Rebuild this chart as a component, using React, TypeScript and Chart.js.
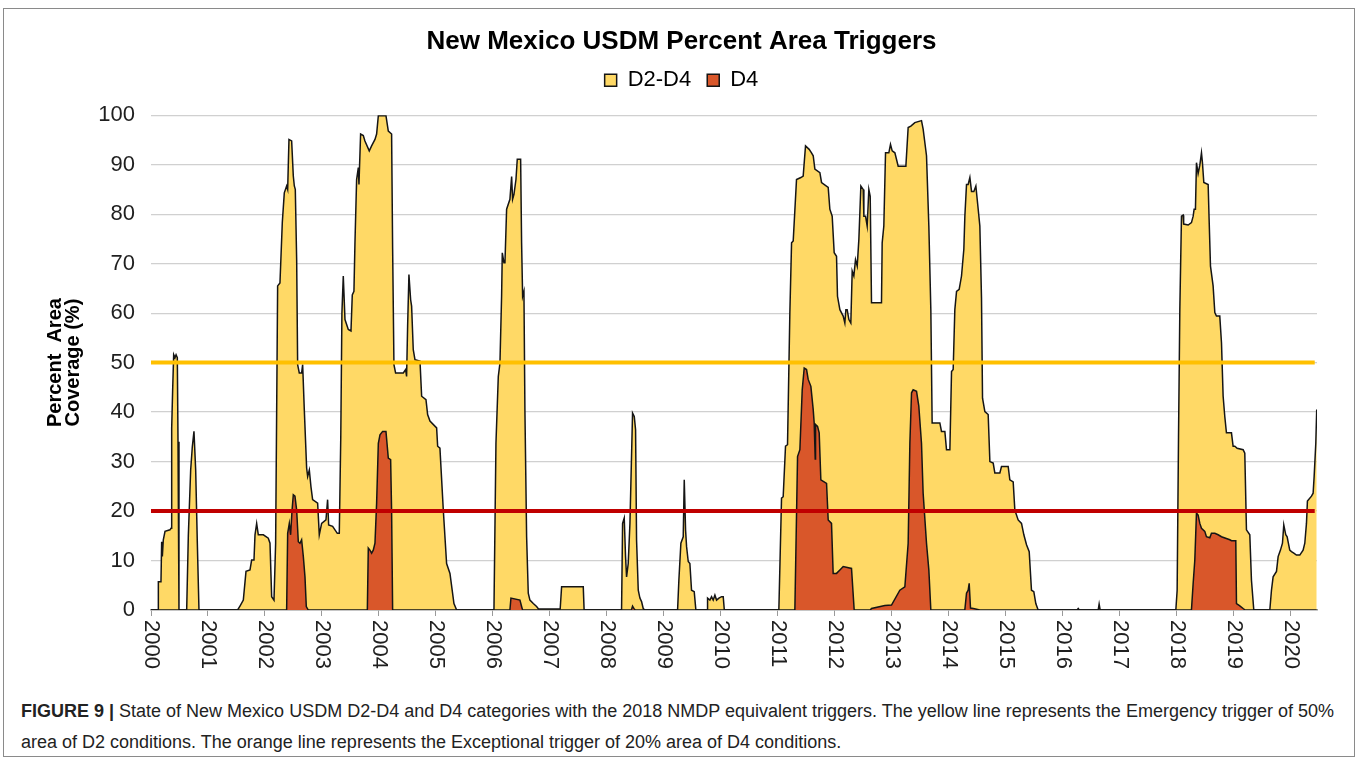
import React, { useEffect, useRef } from "react";
import { Chart, registerables } from "chart.js";

Chart.register(...registerables);

// ---- data (decimal year, percent area) ----
const d2d4Points: [number, number][] = [
  [2000.0, 0], [2000.127, 0], [2000.129, 5.7], [2000.175, 5.7], [2000.187, 13.8], [2000.199, 10.8],
  [2000.216, 14.2], [2000.246, 15.9], [2000.333, 16.2], [2000.351, 16.5], [2000.363, 36.8],
  [2000.38, 44.5], [2000.398, 51.6], [2000.421, 51.0], [2000.44, 51.6], [2000.462, 51.0],
  [2000.474, 34], [2000.491, 0],
  [2000.626, 0], [2000.655, 15], [2000.696, 28.3], [2000.725, 33], [2000.754, 36.1],
  [2000.784, 28.3], [2000.813, 13.5], [2000.842, 0],
  [2001.52, 0], [2001.561, 0.8], [2001.62, 2.0], [2001.667, 7.8], [2001.737, 8.1], [2001.766, 10.1],
  [2001.807, 10.1], [2001.825, 15.2], [2001.854, 17.5], [2001.883, 15.2], [2001.971, 15.2],
  [2002.058, 14.5], [2002.088, 13.5], [2002.117, 2.7], [2002.158, 2.0], [2002.187, 13.5],
  [2002.222, 65.5], [2002.263, 66.1], [2002.304, 78.3], [2002.339, 84.3], [2002.38, 85.7],
  [2002.398, 85], [2002.421, 95.1], [2002.468, 94.8], [2002.497, 87.7], [2002.515, 85.7],
  [2002.532, 85], [2002.556, 70.8], [2002.573, 49.6], [2002.602, 47.9], [2002.643, 47.9],
  [2002.661, 49.6], [2002.69, 40.5], [2002.731, 28.7], [2002.749, 27], [2002.778, 28.3],
  [2002.807, 24.9], [2002.836, 22.3], [2002.924, 21.6], [2002.953, 15.2], [2002.994, 17.5],
  [2003.07, 18.2], [2003.099, 22.3], [2003.117, 17.2], [2003.187, 16.9], [2003.269, 15.5],
  [2003.304, 15.5], [2003.33, 35], [2003.35, 60], [2003.374, 67.5], [2003.404, 58.7],
  [2003.462, 56.7], [2003.509, 56.4], [2003.532, 63.7], [2003.561, 64.4], [2003.579, 74.2],
  [2003.608, 87], [2003.638, 89.4], [2003.649, 86], [2003.678, 96.2], [2003.725, 95.9],
  [2003.754, 94.8], [2003.83, 92.8], [2003.871, 93.8], [2003.93, 95.1], [2003.959, 96.2],
  [2003.989, 99.9], [2004.123, 99.9], [2004.164, 96.8], [2004.222, 96.2], [2004.24, 73],
  [2004.263, 49.6], [2004.292, 47.9], [2004.427, 47.9], [2004.468, 48.6], [2004.485, 47.2],
  [2004.503, 57.4], [2004.526, 67.8], [2004.556, 62.7], [2004.573, 61.4], [2004.602, 52.6],
  [2004.632, 50.6], [2004.72, 50.3], [2004.749, 43.2], [2004.825, 42.5], [2004.854, 39.5],
  [2004.895, 38.2], [2005.012, 36.8], [2005.03, 33.1], [2005.07, 32.7], [2005.129, 20.2],
  [2005.187, 9.4], [2005.246, 7.4], [2005.316, 1.3], [2005.363, 0],
  [2006.018, 0], [2006.053, 33.7], [2006.094, 47.2], [2006.123, 49.9], [2006.152, 63.4],
  [2006.164, 72.2], [2006.193, 70.2], [2006.211, 70.2], [2006.24, 81], [2006.298, 83],
  [2006.328, 87.6], [2006.345, 83], [2006.369, 84], [2006.404, 87], [2006.427, 91.1],
  [2006.486, 91.1], [2006.503, 74.2], [2006.521, 63.4], [2006.544, 64.4], [2006.561, 40.5],
  [2006.591, 14.8], [2006.62, 3.4], [2006.649, 2.0], [2006.708, 1.3], [2006.766, 0.7],
  [2006.8, 0.2], [2007.18, 0.2], [2007.205, 4.7], [2007.585, 4.7], [2007.6, 0],
  [2008.257, 0], [2008.275, 17.5], [2008.304, 18.6], [2008.327, 10.8], [2008.345, 6.7],
  [2008.374, 9.4], [2008.404, 17.5], [2008.45, 39.8], [2008.48, 39.1], [2008.503, 36.4],
  [2008.52, 14.2], [2008.55, 4.0], [2008.579, 2.4], [2008.608, 1.7], [2008.637, 0.3], [2008.667, 0],
  [2009.24, 0], [2009.263, 6.1], [2009.298, 13.5], [2009.339, 14.8], [2009.357, 26.3],
  [2009.38, 16.2], [2009.398, 12.8], [2009.427, 9.8], [2009.456, 9.4], [2009.485, 4.0],
  [2009.532, 3.7], [2009.561, 0],
  [2009.76, 0], [2009.766, 2.4], [2009.807, 2.0], [2009.836, 2.7], [2009.865, 2.0],
  [2009.895, 3.0], [2009.924, 2.0], [2009.965, 2.4], [2010.012, 2.7], [2010.041, 2.7], [2010.06, 0],
  [2011.017, 0], [2011.064, 22.6], [2011.093, 22.9], [2011.134, 33.1], [2011.169, 33.4],
  [2011.21, 60], [2011.24, 74.2], [2011.269, 74.6], [2011.327, 87], [2011.403, 87.4],
  [2011.444, 87.7], [2011.485, 93.8], [2011.549, 93.1], [2011.59, 92.4], [2011.62, 91.8],
  [2011.649, 89.1], [2011.737, 88.4], [2011.766, 86.4], [2011.883, 85.4], [2011.912, 81],
  [2011.953, 79.6], [2011.988, 72.2], [2012.029, 71.5], [2012.046, 63.4], [2012.088, 60.7],
  [2012.146, 59.4], [2012.175, 58], [2012.193, 60.7], [2012.216, 60.7], [2012.246, 58.7],
  [2012.28, 58], [2012.304, 68.5], [2012.333, 67.5], [2012.362, 70.8], [2012.392, 69.5],
  [2012.421, 74.9], [2012.456, 85.7], [2012.497, 85], [2012.509, 79.6], [2012.538, 79.6],
  [2012.567, 77.6], [2012.596, 85], [2012.62, 83.6], [2012.643, 62.1], [2012.818, 62.1],
  [2012.83, 74.2], [2012.859, 77.6], [2012.889, 92.4], [2012.947, 92.4], [2012.976, 94.1],
  [2013.006, 92.8], [2013.053, 92.4], [2013.111, 89.7], [2013.246, 89.7], [2013.286, 97.5],
  [2013.333, 97.8], [2013.403, 98.5], [2013.52, 98.9], [2013.549, 97.2], [2013.608, 91.8],
  [2013.649, 77.6], [2013.684, 60.7], [2013.707, 37.8], [2013.842, 37.8], [2013.871, 36.1],
  [2013.93, 36.1], [2013.959, 32.4], [2014.018, 32.4], [2014.047, 48.2], [2014.076, 48.6],
  [2014.105, 60.7], [2014.135, 64.4], [2014.181, 64.8], [2014.222, 67.5], [2014.263, 72.9],
  [2014.281, 79.6], [2014.31, 86], [2014.339, 86], [2014.369, 87.4], [2014.398, 84.6],
  [2014.439, 84.6], [2014.474, 85.7], [2014.515, 81], [2014.544, 77.6], [2014.573, 63],
  [2014.591, 42.8], [2014.632, 40.1], [2014.69, 39.5], [2014.72, 30], [2014.778, 29.7],
  [2014.807, 27.7], [2014.895, 27.7], [2014.924, 29], [2015.041, 29], [2015.07, 26.3],
  [2015.129, 25.9], [2015.158, 20.2], [2015.216, 18.2], [2015.275, 17.5], [2015.316, 15.2],
  [2015.363, 13.2], [2015.41, 11.8], [2015.45, 4.0], [2015.491, 3.7], [2015.526, 1.3], [2015.567, 0],
  [2016.25, 0], [2016.27, 0.3], [2016.29, 0], [2016.62, 0], [2016.637, 1.2], [2016.655, 0],
  [2017.983, 0], [2018.006, 4.0], [2018.03, 35], [2018.053, 60.7], [2018.082, 79.6],
  [2018.111, 79.8], [2018.12, 78], [2018.199, 77.8], [2018.257, 78.3], [2018.287, 79.6],
  [2018.304, 81], [2018.327, 81], [2018.345, 90.4], [2018.374, 88.2], [2018.404, 89.9],
  [2018.433, 92.4], [2018.45, 90.4], [2018.474, 86.4], [2018.55, 86], [2018.567, 78.9],
  [2018.591, 69.5], [2018.637, 65.5], [2018.667, 60.1], [2018.696, 59.4], [2018.754, 59.4],
  [2018.784, 54], [2018.813, 43.2], [2018.842, 39.1], [2018.871, 35.8], [2018.959, 35.8],
  [2018.988, 33.1], [2019.018, 33.1], [2019.059, 32.7], [2019.164, 32.4], [2019.193, 31.7],
  [2019.222, 16.2], [2019.281, 15.2], [2019.31, 6], [2019.351, 0],
  [2019.632, 0], [2019.661, 4.0], [2019.69, 6.7], [2019.749, 7.8], [2019.778, 10.8],
  [2019.819, 12.1], [2019.854, 13.5], [2019.877, 17.2], [2019.912, 15.2], [2019.936, 14.8],
  [2019.982, 12.1], [2020.012, 11.8], [2020.053, 11.5], [2020.099, 11.1], [2020.158, 11.1],
  [2020.216, 12.1], [2020.246, 13.5], [2020.275, 17.5], [2020.292, 22], [2020.363, 23],
  [2020.392, 23.6], [2020.41, 27], [2020.439, 33.7], [2020.455, 40.5],
];

const d4Points: [number, number][] = [
  [2000.0, 0], [2002.38, 0], [2002.398, 15.5], [2002.427, 17.5], [2002.45, 15.2], [2002.474, 20],
  [2002.497, 23.3], [2002.526, 23], [2002.556, 20.2], [2002.585, 13.8], [2002.614, 13.5],
  [2002.643, 14.2], [2002.673, 10.8], [2002.702, 6.7], [2002.725, 0.7], [2002.76, 0],
  [2003.796, 0], [2003.813, 12.5], [2003.842, 12.1], [2003.871, 11.5], [2003.9, 12.1],
  [2003.93, 13.5], [2003.959, 21.6], [2003.989, 33.7], [2004.018, 35.4], [2004.064, 36.1],
  [2004.123, 36.1], [2004.164, 30.7], [2004.205, 30.4], [2004.222, 20], [2004.24, 0],
  [2006.298, 0], [2006.316, 2.4], [2006.474, 2.0], [2006.503, 0.7], [2006.52, 0],
  [2008.43, 0], [2008.45, 0.8], [2008.48, 0.2], [2008.5, 0],
  [2011.298, 0], [2011.345, 31], [2011.386, 32.4], [2011.427, 44.5], [2011.462, 48.9],
  [2011.503, 48.6], [2011.532, 46.6], [2011.579, 45.2], [2011.62, 40.5], [2011.637, 37.8],
  [2011.655, 30.5], [2011.661, 37.5], [2011.696, 37.1], [2011.725, 35.8], [2011.754, 26.3],
  [2011.854, 25.6], [2011.883, 18.2], [2011.941, 17.5], [2011.97, 7.4], [2012.029, 7.4],
  [2012.088, 8.1], [2012.146, 8.8], [2012.292, 8.4], [2012.339, 0], [2012.62, 0],
  [2012.643, 0.3], [2012.877, 0.9], [2012.994, 1.0], [2013.14, 4.0], [2013.228, 4.7],
  [2013.286, 13.5], [2013.316, 33.7], [2013.345, 43.9], [2013.374, 44.5], [2013.433, 44.2],
  [2013.473, 41.2], [2013.52, 33.7], [2013.549, 23.6], [2013.608, 13.5], [2013.649, 8.1],
  [2013.684, 0],
  [2014.28, 0], [2014.31, 3.4], [2014.339, 4.0], [2014.357, 5.4], [2014.38, 0.4], [2014.43, 0.3],
  [2014.544, 0],
  [2018.257, 0], [2018.287, 5.4], [2018.316, 10.1], [2018.345, 19.6], [2018.374, 19.2],
  [2018.404, 17.5], [2018.433, 16.5], [2018.491, 15.9], [2018.52, 14.8], [2018.579, 14.6],
  [2018.608, 15.5], [2018.667, 15.5], [2018.725, 15.2], [2018.784, 14.8], [2018.93, 14.2],
  [2018.96, 14], [2019.035, 14], [2019.047, 1.3], [2019.1, 0.9], [2019.164, 0.3], [2019.2, 0],
  [2020.455, 0],
];

const seriesNames = ["D2-D4", "D4"];
const emergencyTrigger = 50; // % area D2
const exceptionalTrigger = 20; // % area D4
const xStart = 2000;
const xEnd = 2020.46;
const triggerEnd = 2020.42;
const yMax = 100;
const yStep = 10;

const titleText = "New Mexico USDM Percent Area Triggers";
const yTitleLines = ["Percent  Area", "Coverage (%)"];
const captionBold = "FIGURE 9 |";
const captionLine1 =
  " State of New Mexico USDM D2-D4 and D4 categories with the 2018 NMDP equivalent triggers. The yellow line represents the Emergency trigger of 50%";
const captionLine2 =
  "area of D2 conditions. The orange line represents the Exceptional trigger of 20% area of D4 conditions.";

const FONT = '"Liberation Sans", Arial, Helvetica, sans-serif';

const rotatedXLabels = {
  id: "rotatedXLabels",
  afterDraw(chart: any) {
    const xs = chart.scales.x;
    const ctx = chart.ctx;
    ctx.save();
    ctx.font = `22px ${FONT}`;
    ctx.fillStyle = "#1f1f1f";
    ctx.textAlign = "left";
    ctx.textBaseline = "middle";
    xs.ticks.forEach((t: any) => {
      const px = xs.getPixelForValue(t.value);
      ctx.save();
      ctx.translate(px, xs.top + 10);
      ctx.rotate(Math.PI / 2);
      ctx.fillText(String(t.value), 0, 0);
      ctx.restore();
    });
    ctx.restore();
  },
};

export default function App() {
  const ref = useRef<HTMLCanvasElement>(null);

  useEffect(() => {
    if (!ref.current) return;
    Chart.defaults.font.family = FONT;
    Chart.defaults.color = "#000";
    const toXY = (pts: [number, number][]) => pts.map(([x, y]) => ({ x, y }));
    const chart = new Chart(ref.current, {
      type: "line",
      data: {
        datasets: [
          {
            label: seriesNames[0],
            data: toXY(d2d4Points),
            borderColor: "#151515",
            backgroundColor: "#FFD966",
            borderWidth: 1.5,
            pointRadius: 0,
            fill: "origin",
            tension: 0,
            order: 3,
          },
          {
            label: seriesNames[1],
            data: toXY(d4Points),
            borderColor: "#151515",
            backgroundColor: "#D9572A",
            borderWidth: 1.5,
            pointRadius: 0,
            fill: "origin",
            tension: 0,
            order: 2,
          },
          {
            label: "Emergency",
            data: [
              { x: xStart, y: emergencyTrigger },
              { x: triggerEnd, y: emergencyTrigger },
            ],
            borderColor: "#FFC000",
            borderWidth: 4,
            pointRadius: 0,
            fill: false,
            order: 1,
          },
          {
            label: "Exceptional",
            data: [
              { x: xStart, y: exceptionalTrigger },
              { x: triggerEnd, y: exceptionalTrigger },
            ],
            borderColor: "#C00000",
            borderWidth: 4,
            pointRadius: 0,
            fill: false,
            order: 0,
          },
        ],
      },
      options: {
        animation: false,
        responsive: false,
        events: [],
        layout: { padding: { left: 42, right: 37, top: 0, bottom: 17 } },
        plugins: {
          tooltip: { enabled: false },
          title: {
            display: true,
            text: titleText,
            color: "#000",
            font: { size: 26, weight: "bold", lineHeight: 1.2 },
            padding: { top: 17, bottom: -4 },
          },
          legend: {
            display: true,
            position: "top",
            labels: {
              boxWidth: 12,
              boxHeight: 12,
              padding: 16,
              color: "#000",
              font: { size: 22 },
              filter: (item: any) => item.datasetIndex < 2,
              sort: (a: any, b: any) => a.datasetIndex - b.datasetIndex,
            },
          },
          subtitle: {
            display: true,
            text: "",
            weight: 500,
            font: { size: 14, lineHeight: 1 },
            padding: 0,
          } as any,
        },
        scales: {
          x: {
            type: "linear",
            min: xStart,
            max: xEnd,
            afterFit: (scale: any) => {
              scale.height = 62;
            },
            ticks: {
              stepSize: 1,
              autoSkip: false,
              includeBounds: false,
              minRotation: 90,
              maxRotation: 90,
              color: "rgba(0,0,0,0)",
              font: { size: 22 },
              callback: (v: any) => String(v),
            },
            grid: {
              drawOnChartArea: false,
              drawTicks: true,
              tickLength: 6,
              color: "#9a9a9a",
            },
            border: { display: true, color: "#9a9a9a", width: 1.5 },
          },
          y: {
            min: 0,
            max: yMax,
            afterFit: (scale: any) => {
              scale.width = 105;
            },
            ticks: {
              stepSize: yStep,
              padding: 16,
              color: "#1f1f1f",
              font: { size: 22 },
              callback: (v: any) => String(v),
            },
            grid: { color: "#d0d0d0", lineWidth: 1.2, drawTicks: false },
            border: { display: false },
            title: {
              display: true,
              text: yTitleLines,
              color: "#000",
              font: { size: 20, weight: "bold", lineHeight: 0.9 },
              padding: { top: 0, bottom: 15 },
            },
          },
        },
      },
      plugins: [rotatedXLabels],
    } as any);
    return () => chart.destroy();
  }, []);

  return (
    <div>
      <div
        style={{
          position: "absolute",
          left: 3,
          top: 8,
          width: 1350,
          height: 747,
          border: "1px solid #8a8a8a",
          background: "#fff",
        }}
      />
      <canvas
        ref={ref}
        width={1350}
        height={680}
        style={{ position: "absolute", left: 4, top: 9, width: 1350, height: 680 }}
      />
      <div
        style={{
          position: "absolute",
          left: 21,
          top: 696,
          fontFamily: FONT,
          fontSize: 18,
          lineHeight: "31px",
          color: "#222",
          whiteSpace: "nowrap",
        }}
      >
        <b>{captionBold}</b>
        {captionLine1}
        <br />
        {captionLine2}
      </div>
    </div>
  );
}
